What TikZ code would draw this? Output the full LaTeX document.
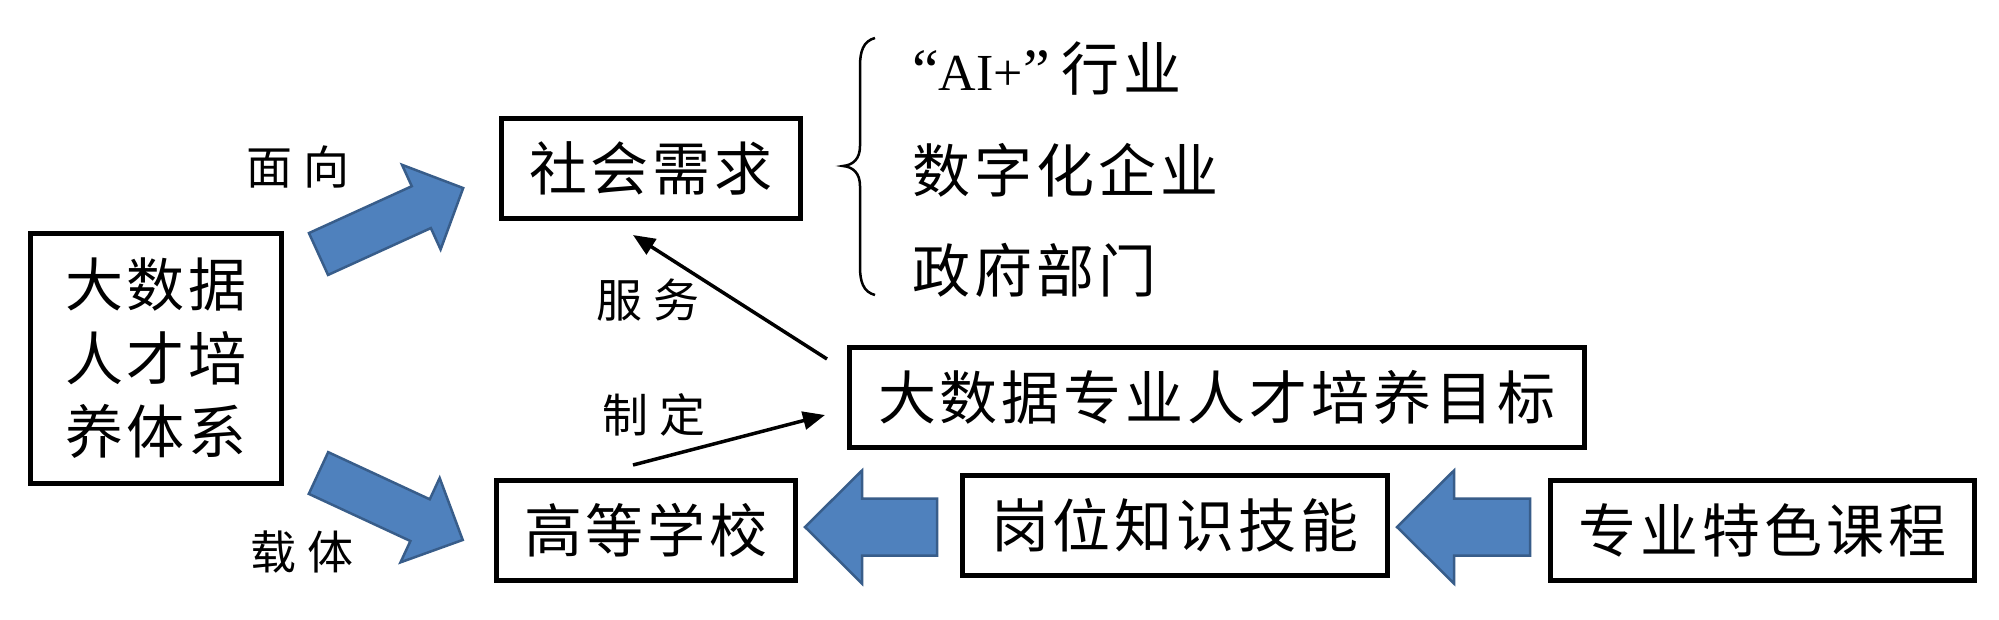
\documentclass[tikz,border=0pt]{standalone}
\usepackage{fontspec}
\setmainfont{Liberation Serif}
\newfontfamily\cjk{Noto Sans CJK SC}
\usetikzlibrary{arrows.meta}
\definecolor{arrowblue}{HTML}{4F81BD}
\definecolor{arrowedge}{HTML}{385D8A}
\newlength\chgap
\def\spacedtext#1{\spacedfirst#1\relax}
\def\spacedfirst#1{#1\spacednext}
\def\spacednext#1{\ifx\relax#1\else\hspace{\chgap}#1\expandafter\spacednext\fi}
\newcommand\bigcjk{\cjk\fontsize{58}{73.5}\selectfont\setlength\chgap{4pt}}
\newcommand\smallcjk{\cjk\fontsize{46}{55}\selectfont\setlength\chgap{12pt}}
\newcommand\blockarrow[7]{%
  \begin{scope}[shift={(#1,#2)},rotate=#3]
    \draw[blockarrowstyle] (0,-#5) -- (#4-#7,-#5) -- (#4-#7,-#6) -- (#4,0)
      -- (#4-#7,#6) -- (#4-#7,#5) -- (0,#5) -- cycle;
  \end{scope}}
\begin{document}
\begin{tikzpicture}[x=1pt,y={(0pt,-1pt)},
  box/.style={draw=black,line width=5pt,minimum width=#1,minimum height=100pt,
    inner sep=0pt,font=\bigcjk,line join=miter},
  lab/.style={inner sep=0pt,font=\smallcjk},
  listitem/.style={inner sep=0pt,anchor=west,font=\bigcjk},
  thinarrow/.style={line width=3.5pt,-{Triangle[length=22pt,width=18pt]}},
  blockarrowstyle/.style={fill=arrowblue,draw=arrowedge,line width=2.5pt,line join=miter}]
\fill[white] (0,0) rectangle (1999,619);
\useasboundingbox (0,0) rectangle (1999,619);

% block arrows
\blockarrow{318.5}{254}{24.5}{159}{23}{46.5}{46}
\blockarrow{318.5}{473}{-24.9}{159}{23}{46.5}{47}
\blockarrow{937}{527}{180}{132}{28.5}{56.5}{57}
\blockarrow{1530}{527}{180}{133}{28.5}{56.5}{57}

% boxes
\node[box=251pt,minimum height=250pt,align=center] (sys) at (156,358.5)
  {\spacedtext{大数据}\\\spacedtext{人才培}\\\spacedtext{养体系}};
\node[box=299pt] (soc) at (651,168.5) {\spacedtext{社会需求}};
\node[box=735pt] (goal) at (1217,397.5) {\spacedtext{大数据专业人才培养目标}};
\node[box=299pt] (uni) at (646,530.5) {\spacedtext{高等学校}};
\node[box=425pt] (job) at (1175,525.5) {\spacedtext{岗位知识技能}};
\node[box=424pt] (course) at (1762.5,530.5) {\spacedtext{专业特色课程}};

% labels
\node[lab] (lfx) at (298,167) {\spacedtext{面向}};
\node[lab] (lzt) at (302,552) {\spacedtext{载体}};
\node[lab] (lfw) at (648,300) {\spacedtext{服务}};
\node[lab] (lzd) at (654,415) {\spacedtext{制定}};

% list with brace
\node[listitem] (i1) at (912,69)
  {{\rmfamily\fontsize{60}{60}\selectfont “}{\rmfamily\fontsize{52}{60}\selectfont AI+}{\rmfamily\fontsize{60}{60}\selectfont ”}\hspace{12pt}\spacedtext{行业}};
\node[listitem] (i2) at (912,170) {\spacedtext{数字化企业}};
\node[listitem] (i3) at (912,270) {\spacedtext{政府部门}};
\draw[line width=2.5pt] (875,38) .. controls (863,41) and (860,52) .. (860,66)
  -- (860,146) .. controls (860,159) and (853,165) .. (843,166)
  .. controls (853,167) and (860,173) .. (860,186)
  -- (860,267) .. controls (860,281) and (863,292) .. (875,295);

% thin arrows
\coordinate (fwS) at (827,359);
\coordinate (fwE) at (633,235);
\draw[thinarrow] (fwS) -- (fwE);
\coordinate (zdS) at (633,465);
\coordinate (zdE) at (825,415);
\draw[thinarrow] (zdS) -- (zdE);
\end{tikzpicture}
\end{document}
